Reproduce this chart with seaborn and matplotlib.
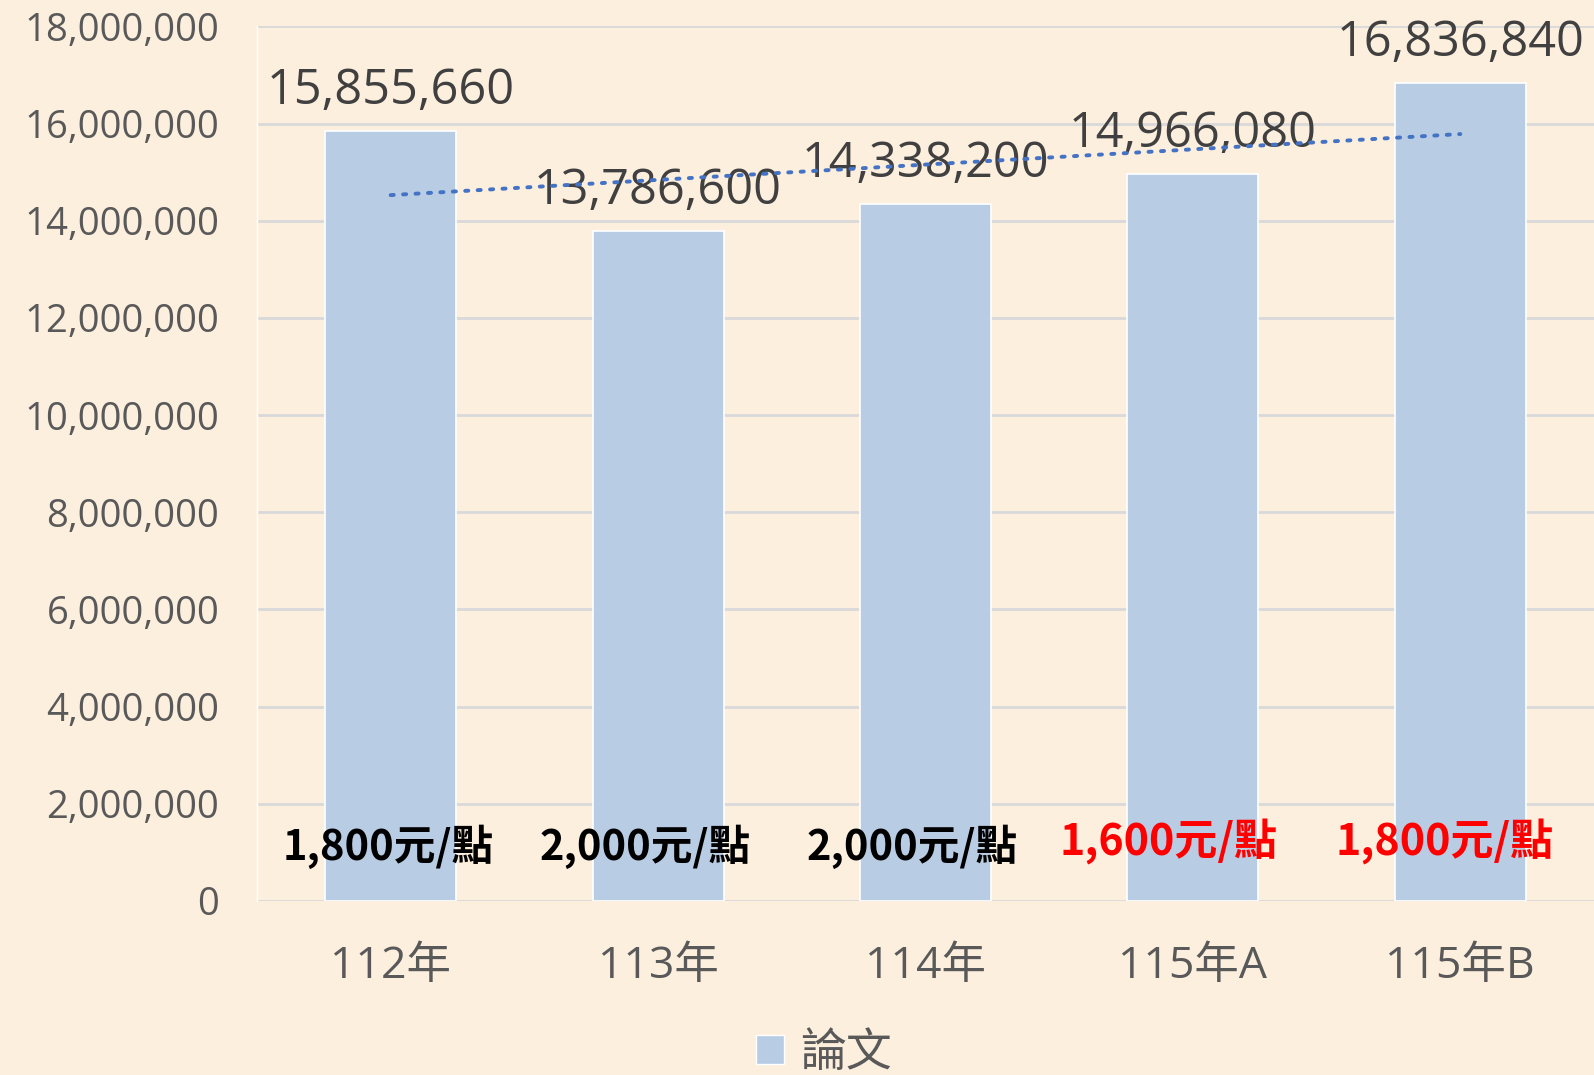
import numpy as np
import pandas as pd
import matplotlib
matplotlib.use("Agg")
import matplotlib.pyplot as plt
from matplotlib.patches import Patch
from matplotlib.ticker import FuncFormatter
import seaborn as sns

# data
categories = ["112年", "113年", "114年", "115年A", "115年B"]
amounts = [15855660, 13786600, 14338200, 14966080, 16836840]
price_labels = ["1,800元/點", "2,000元/點", "2,000元/點", "1,600元/點", "1,800元/點"]
price_colors = ["black", "black", "black", "red", "red"]
series_name = "論文"

# layout / style
bg = "#FDEFDE"
bar_color = "#B8CCE4"
grey_text = "#595959"
price_shift = [-0.01, -0.05, -0.05, -0.09, -0.06]
price_y = [1.11e6, 1.11e6, 1.11e6, 1.21e6, 1.21e6]
price_size = [30, 30, 30, 31, 31]

sns.set_theme(style="white")
plt.rcParams["font.family"] = ["Open Sans", "Noto Sans CJK TC", "DejaVu Sans"]

df = pd.DataFrame({"category": categories, "amount": amounts, "pos": range(len(categories))})

fig = plt.figure(figsize=(15.94, 10.75), dpi=100, facecolor=bg)
ax = fig.add_axes([0.1612, 0.1619, 0.8388, 0.8135])
ax.set_facecolor(bg)

sns.barplot(data=df, x="category", y="amount", color=bar_color, saturation=1,
            width=0.49, edgecolor="white", linewidth=1.2, ax=ax, zorder=2)

# bar value labels
for i, v in enumerate(amounts):
    ax.annotate(f"{v:,}", (i, v), xytext=(0, 19.5), textcoords="offset points",
                ha="center", va="baseline", fontsize=35, color="#404040", zorder=3)

# price per point labels
for i, (txt, col) in enumerate(zip(price_labels, price_colors)):
    ax.text(i + price_shift[i], price_y[i], txt, ha="center", va="center",
            fontsize=price_size[i], color=col, fontweight="bold",
            family=["Noto Sans CJK TC", "DejaVu Sans"], zorder=3)

# linear trendline (dotted)
sns.regplot(data=df, x="pos", y="amount", scatter=False, ci=None, truncate=True, ax=ax,
            line_kws={"color": "#4472C4", "linestyle": (0, (0.8, 2.4)), "linewidth": 2.8,
                      "dash_capstyle": "round", "zorder": 4})

ax.set_xlim(-0.5, 4.5)
ax.set_ylim(0, 18000000)
ax.set_yticks(np.arange(0, 18000001, 2000000))
ax.yaxis.set_major_formatter(FuncFormatter(lambda v, p: f"{int(v):,}"))
ax.grid(axis="y", color="#D9D9D9", linewidth=2, zorder=0)
ax.set_axisbelow(True)
ax.tick_params(axis="y", length=0, pad=27, labelsize=27.5, labelcolor=grey_text)
ax.tick_params(axis="x", length=0, pad=31, labelsize=32, labelcolor=grey_text)
ax.set_xlabel("")
ax.set_ylabel("")
for s in ["top", "right", "bottom"]:
    ax.spines[s].set_visible(False)
ax.spines["left"].set_color("white")
ax.spines["left"].set_linewidth(1)

handle = Patch(facecolor=bar_color, edgecolor="white", linewidth=1)
fig.legend([handle], [series_name], loc="center", bbox_to_anchor=(0.517, 0.02),
           frameon=False, fontsize=33, labelcolor=grey_text,
           handlelength=0.6, handleheight=0.6, handletextpad=0.35)

fig.savefig("out.png", dpi=100, facecolor=bg)
